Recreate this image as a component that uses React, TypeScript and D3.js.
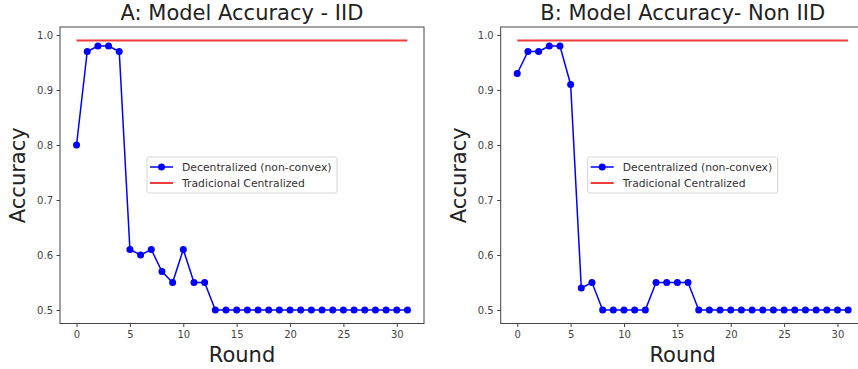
import React, { useEffect, useRef } from 'react'
import * as d3 from 'd3'

const rounds = d3.range(32)
const iidAcc = [0.80, 0.97, 0.98, 0.98, 0.97, 0.61, 0.60, 0.61, 0.57, 0.55, 0.61, 0.55, 0.55,
  0.50, 0.50, 0.50, 0.50, 0.50, 0.50, 0.50, 0.50, 0.50, 0.50, 0.50, 0.50, 0.50, 0.50, 0.50, 0.50, 0.50, 0.50, 0.50]
const nonIidAcc = [0.93, 0.97, 0.97, 0.98, 0.98, 0.91, 0.54, 0.55, 0.50, 0.50, 0.50, 0.50, 0.50,
  0.55, 0.55, 0.55, 0.55, 0.50, 0.50, 0.50, 0.50, 0.50, 0.50, 0.50, 0.50, 0.50, 0.50, 0.50, 0.50, 0.50, 0.50, 0.50]
const centralizedAcc = 0.99
const xTicks = [0, 5, 10, 15, 20, 25, 30]
const yTicks = [0.5, 0.6, 0.7, 0.8, 0.9, 1.0]
const seriesNames = ['Decentralized (non-convex)', 'Tradicional Centralized']

const panels = [
  { title: 'A: Model Accuracy - IID', values: iidAcc, left: 60 },
  { title: 'B: Model Accuracy- Non IID', values: nonIidAcc, left: 500.7 },
]

export default function App(){
  const svgRef = useRef<SVGSVGElement>(null)

  useEffect(()=>{
    const width = 858, height = 369
    const top = 27, bottom = 323.5, pw = 364
    const font = 'DejaVu Sans, sans-serif'
    const svg = d3.select(svgRef.current).attr('width', width).attr('height', height)
    svg.selectAll('*').remove()
    svg.append('rect').attr('width', width).attr('height', height).attr('fill', '#fff')

    panels.forEach(p => {
      const x = d3.scaleLinear().domain([-1.55, 32.55]).range([p.left, p.left + pw])
      const y = d3.scaleLinear().domain([0.4755, 1.0145]).range([bottom, top])
      const g = svg.append('g')

      // title
      g.append('text').attr('x', p.left + pw / 2).attr('y', 20).attr('text-anchor', 'middle')
        .attr('font-family', font).attr('font-size', 21).attr('fill', '#222').text(p.title)

      // axes
      const xAxis = g.append('g').attr('transform', `translate(0,${bottom})`)
        .call(d3.axisBottom(x).tickValues(xTicks).tickSize(3.5).tickPadding(3.5).tickFormat(d3.format('d')))
      const yAxis = g.append('g').attr('transform', `translate(${p.left},0)`)
        .call(d3.axisLeft(y).tickValues(yTicks).tickSize(3.5).tickPadding(3.5).tickFormat(d3.format('.1f')))
      ;[xAxis, yAxis].forEach(a => {
        a.select('.domain').remove()
        a.selectAll('line').attr('stroke', '#444')
        a.selectAll('text').attr('font-family', font).attr('font-size', 10).attr('fill', '#444')
      })

      // frame
      g.append('rect').attr('x', p.left).attr('y', top).attr('width', pw).attr('height', bottom - top)
        .attr('fill', 'none').attr('stroke', '#444').attr('stroke-width', 1)

      // axis labels
      g.append('text').attr('x', p.left + pw / 2).attr('y', 362).attr('text-anchor', 'middle')
        .attr('font-family', font).attr('font-size', 21).attr('fill', '#222').text('Round')
      g.append('text').attr('transform', `translate(${p.left - 35},${(top + bottom) / 2}) rotate(-90)`)
        .attr('text-anchor', 'middle').attr('font-family', font).attr('font-size', 21).attr('fill', '#222').text('Accuracy')

      // centralized line
      g.append('line').attr('x1', x(0)).attr('x2', x(31)).attr('y1', y(centralizedAcc)).attr('y2', y(centralizedAcc))
        .attr('stroke', '#f03c3c').attr('stroke-width', 2)

      // decentralized series
      const line = d3.line<number>().x((d, i) => x(rounds[i])).y(d => y(d))
      g.append('path').datum(p.values).attr('d', line).attr('fill', 'none')
        .attr('stroke', '#0000ff').attr('stroke-width', 1.5)
      g.selectAll('circle.pt').data(p.values).join('circle').attr('class', 'pt')
        .attr('cx', (d, i) => x(rounds[i])).attr('cy', d => y(d)).attr('r', 3.5).attr('fill', '#0000ff')

      // legend
      const lx = p.left + 87, ly = 157
      const lg = g.append('g').attr('transform', `translate(${lx},${ly})`)
      lg.append('rect').attr('width', 190).attr('height', 36).attr('rx', 2)
        .attr('fill', '#fff').attr('stroke', '#d6d6d6').attr('stroke-width', 1)
      lg.append('line').attr('x1', 3).attr('x2', 26).attr('y1', 10).attr('y2', 10)
        .attr('stroke', '#0000ff').attr('stroke-width', 1.5)
      lg.append('circle').attr('cx', 14.5).attr('cy', 10).attr('r', 3.5).attr('fill', '#0000ff')
      lg.append('line').attr('x1', 3).attr('x2', 26).attr('y1', 26).attr('y2', 26)
        .attr('stroke', '#f03c3c').attr('stroke-width', 2)
      seriesNames.forEach((name, i) => {
        lg.append('text').attr('x', 35).attr('y', 10 + i * 16).attr('dy', '0.35em')
          .attr('font-family', font).attr('font-size', 10.8).attr('fill', '#333').text(name)
      })
    })
  }, [])

  return (<div><svg ref={svgRef} style={{ position: 'absolute', left: 0, top: 0 }}></svg></div>)
}
